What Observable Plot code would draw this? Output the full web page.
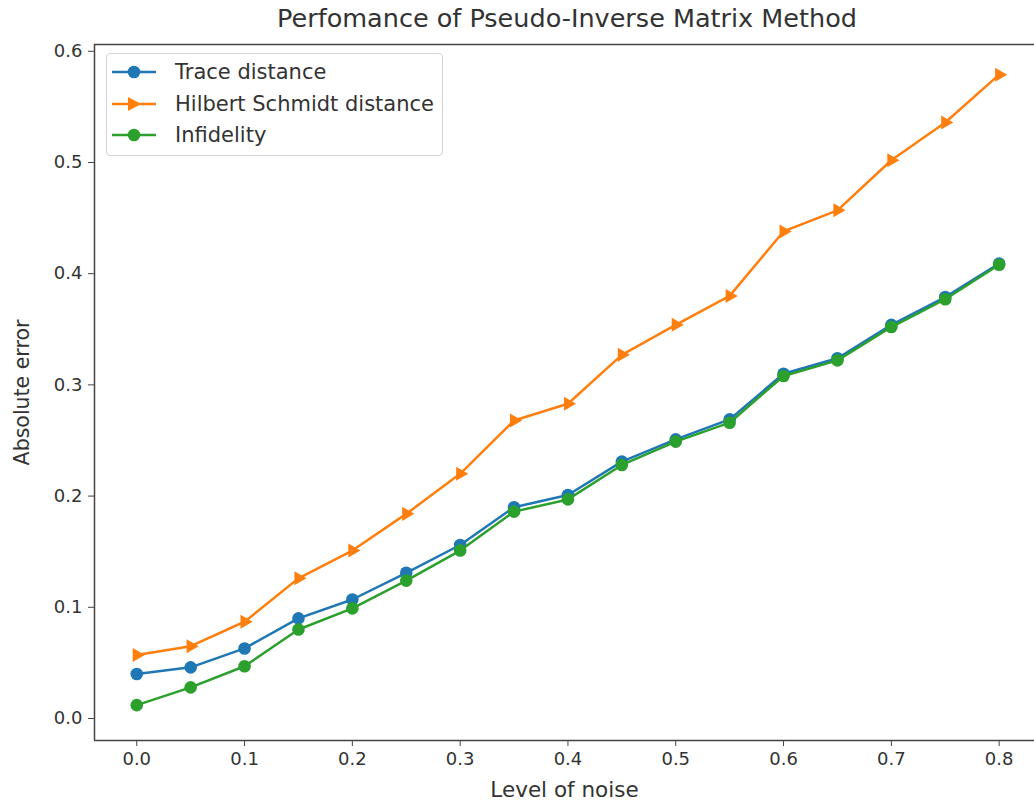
<!DOCTYPE html>
<html>
<head>
<meta charset="utf-8">
<script src="https://cdn.jsdelivr.net/npm/d3@7"></script>
<script src="https://cdn.jsdelivr.net/npm/@observablehq/plot@0.6"></script>
<style>
  html, body { margin: 0; padding: 0; background: #fff; }
  #wrap { position: relative; width: 1034px; height: 800px; font-family: "DejaVu Sans", sans-serif; }
  #title { position: absolute; left: 94px; width: 946px; top: 3px; text-align: center; font-size: 25.5px; color: #333; white-space: nowrap; }
  #legend { position: absolute; left: 106px; top: 53px; width: 337px; height: 103px; border: 1px solid #d4d4d4; border-radius: 4px; background: rgba(255,255,255,0.85); box-sizing: border-box; }
  .entry { position: absolute; left: 0; height: 30px; display: flex; align-items: center; font-size: 21px; color: #333; white-space: nowrap; }
  .entry svg { margin-left: 3px; margin-right: 17px; }
  #chart svg g[aria-label="x-axis label"] text { font-size: 21.5px; }
  #chart svg g[aria-label="y-axis label"] text { font-size: 20.5px; }
</style>
</head>
<body>
<div id="wrap">
  <div id="chart"></div>
  <div id="title">Perfomance of Pseudo-Inverse Matrix Method</div>
  <div id="legend"></div>
</div>
<script>
// Noise levels and the three error measures
const noise = [0, 0.05, 0.1, 0.15, 0.2, 0.25, 0.3, 0.35, 0.4, 0.45, 0.5, 0.55, 0.6, 0.65, 0.7, 0.75, 0.8];
const traceDistance = [0.040, 0.046, 0.063, 0.090, 0.107, 0.131, 0.156, 0.190, 0.201, 0.231, 0.251, 0.269, 0.310, 0.324, 0.354, 0.379, 0.409];
const hilbertSchmidt = [0.057, 0.065, 0.087, 0.126, 0.151, 0.184, 0.220, 0.268, 0.283, 0.327, 0.354, 0.380, 0.438, 0.457, 0.502, 0.536, 0.579];
const infidelity = [0.012, 0.028, 0.047, 0.080, 0.099, 0.124, 0.151, 0.186, 0.197, 0.228, 0.249, 0.266, 0.308, 0.322, 0.352, 0.377, 0.408];

const seriesNames = ["Trace distance", "Hilbert Schmidt distance", "Infidelity"];
const seriesColors = ["#1f77b4", "#ff7f0e", "#2ca02c"];
const xTicks = [0, 0.1, 0.2, 0.3, 0.4, 0.5, 0.6, 0.7, 0.8];
const yTicks = [0, 0.1, 0.2, 0.3, 0.4, 0.5, 0.6];
const xDomain = [-0.0392, 0.8328];
const yDomain = [-0.0198, 0.6061];

const rows = (values) => noise.map((x, i) => ({x, y: values[i]}));
const trace = rows(traceDistance);
const hs = rows(hilbertSchmidt);
const inf = rows(infidelity);

const spine = "#444";

const chart = Plot.plot({
  width: 1034,
  height: 800,
  marginLeft: 94,
  marginRight: 0,
  marginTop: 44,
  marginBottom: 60,
  style: {fontFamily: "DejaVu Sans, sans-serif", fontSize: "18px", color: "#333", background: "transparent"},
  x: {domain: xDomain},
  y: {domain: yDomain},
  marks: [
    Plot.axisX({ticks: xTicks, tickFormat: d3.format(".1f"), tickSize: 6, tickPadding: 6, stroke: spine, label: "Level of noise", labelArrow: "none", labelAnchor: "center", labelOffset: 56}),
    Plot.axisY({ticks: yTicks, tickFormat: d3.format(".1f"), tickSize: 6, tickPadding: 6, stroke: spine, label: "Absolute error", labelArrow: "none", labelAnchor: "center", labelOffset: 80}),
    Plot.ruleX([xDomain[0]], {stroke: spine, strokeWidth: 1.5}),
    Plot.ruleY([yDomain[0], yDomain[1]], {stroke: spine, strokeWidth: 1.5}),
    Plot.line(trace, {x: "x", y: "y", stroke: seriesColors[0], strokeWidth: 2.5}),
    Plot.dot(trace, {x: "x", y: "y", fill: seriesColors[0], r: 6.3}),
    Plot.line(hs, {x: "x", y: "y", stroke: seriesColors[1], strokeWidth: 2.5}),
    Plot.dot(hs, {x: "x", y: "y", fill: seriesColors[1], symbol: "triangle", r: 5.2, rotate: 90}),
    Plot.line(inf, {x: "x", y: "y", stroke: seriesColors[2], strokeWidth: 2.5}),
    Plot.dot(inf, {x: "x", y: "y", fill: seriesColors[2], r: 6.3})
  ]
});
document.getElementById("chart").appendChild(chart);

// Legend: line-and-marker swatch followed by the series name
const legend = document.getElementById("legend");
seriesNames.forEach((name, i) => {
  const entry = document.createElement("div");
  entry.className = "entry";
  entry.style.top = (3 + i * 31.5) + "px";
  const marker = i === 1
    ? `<path d="M-6,-7 L7,0 L-6,7 Z" transform="translate(24,10)" fill="${seriesColors[i]}"/>`
    : `<circle cx="24" cy="10" r="6.3" fill="${seriesColors[i]}"/>`;
  entry.innerHTML = `<svg width="48" height="20"><line x1="2" x2="46" y1="10" y2="10" stroke="${seriesColors[i]}" stroke-width="2.5"/>${marker}</svg><span>${name}</span>`;
  legend.appendChild(entry);
});
</script>
</body>
</html>
